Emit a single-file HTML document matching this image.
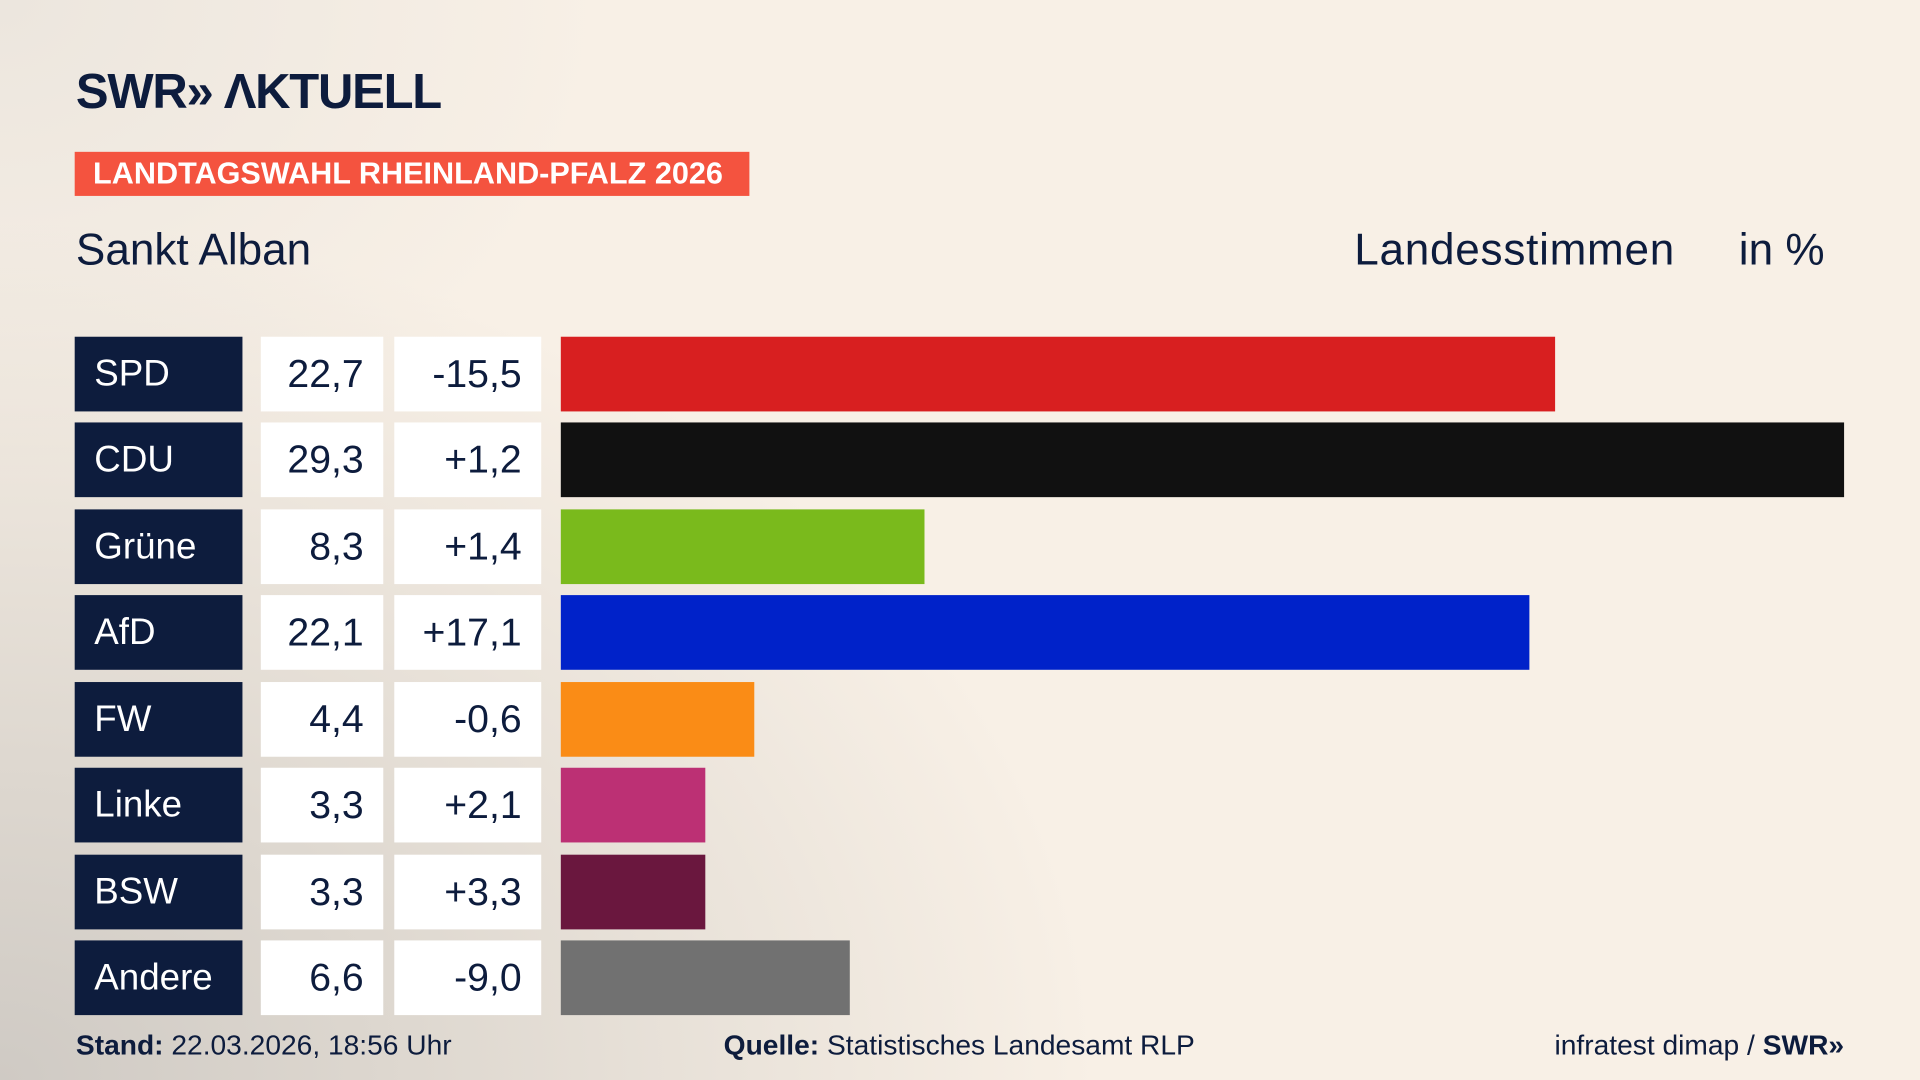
<!DOCTYPE html>
<html><head><meta charset="utf-8"><style>
html,body{margin:0;padding:0;width:1920px;height:1080px;overflow:hidden}
body{background:#f8f0e6}
#w{position:absolute;left:0;top:0;width:1568px;height:882px;transform:scale(1.22449);transform-origin:0 0;
background:radial-gradient(ellipse 900px 700px at 0px 882px,#cfcac4 0%,#ddd7cf 35%,rgba(248,240,230,0) 100%),radial-gradient(ellipse 500px 400px at 0 0,#ece6de 0%,rgba(248,240,230,0) 100%),#f8f0e6;
font-family:"Liberation Sans",sans-serif;color:#0d1c3d}
.a{position:absolute}
.logo{left:62px;top:53px;font-size:40px;font-weight:bold;letter-spacing:-1px;white-space:nowrap}
.ban{left:61px;top:124px;width:551px;height:36px;background:#f4533f;color:#fff;font-weight:bold;font-size:25px;line-height:37px;text-indent:15px;white-space:nowrap}
.t{font-size:36px;top:183px}
.row{position:absolute;left:0;height:61px;width:1568px}
.p{position:absolute;left:61px;width:137px;height:61px;background:#0d1c3d;color:#fff;font-size:30px;line-height:61px;text-indent:16px}
.v{position:absolute;left:213px;width:100px;height:61px;background:#fff;font-size:32px;line-height:61px;text-align:right;box-sizing:border-box;padding-right:16px}
.d{position:absolute;left:322px;width:120px;height:61px;background:#fff;font-size:32px;line-height:61px;text-align:right;box-sizing:border-box;padding-right:16px}
.b{position:absolute;left:458px;height:61px}
.f{top:840px;font-size:23px;white-space:nowrap}
</style></head><body><div id="w">
<div class="a logo">SWR<span style="letter-spacing:-2px">»</span>&nbsp;ΛKTUELL</div>
<div class="a ban">LANDTAGSWAHL RHEINLAND-PFALZ 2026</div>
<div class="a t" style="left:62px">Sankt Alban</div>
<div class="a t" style="left:1106px;letter-spacing:0.6px">Landesstimmen</div>
<div class="a t" style="left:1420px">in %</div>

<div class="row" style="top:275px"><div class="p">SPD</div><div class="v">22,7</div><div class="d">-15,5</div><div class="b" style="width:812px;background:#d81f20"></div></div>
<div class="row" style="top:345px"><div class="p">CDU</div><div class="v">29,3</div><div class="d">+1,2</div><div class="b" style="width:1048px;background:#111"></div></div>
<div class="row" style="top:416px"><div class="p">Grüne</div><div class="v">8,3</div><div class="d">+1,4</div><div class="b" style="width:297px;background:#7aba1c"></div></div>
<div class="row" style="top:486px"><div class="p">AfD</div><div class="v">22,1</div><div class="d">+17,1</div><div class="b" style="width:791px;background:#0022c9"></div></div>
<div class="row" style="top:557px"><div class="p">FW</div><div class="v">4,4</div><div class="d">-0,6</div><div class="b" style="width:158px;background:#fa8c16"></div></div>
<div class="row" style="top:627px"><div class="p">Linke</div><div class="v">3,3</div><div class="d">+2,1</div><div class="b" style="width:118px;background:#bc3074"></div></div>
<div class="row" style="top:698px"><div class="p">BSW</div><div class="v">3,3</div><div class="d">+3,3</div><div class="b" style="width:118px;background:#6a173e"></div></div>
<div class="row" style="top:768px"><div class="p">Andere</div><div class="v">6,6</div><div class="d">-9,0</div><div class="b" style="width:236px;background:#717171"></div></div>

<div class="a f" style="left:62px"><b>Stand:</b> 22.03.2026, 18:56 Uhr</div>
<div class="a f" style="left:591px"><b>Quelle:</b> Statistisches Landesamt RLP</div>
<div class="a f" style="right:62px">infratest dimap / <b>SWR»</b></div>
</div></body></html>
